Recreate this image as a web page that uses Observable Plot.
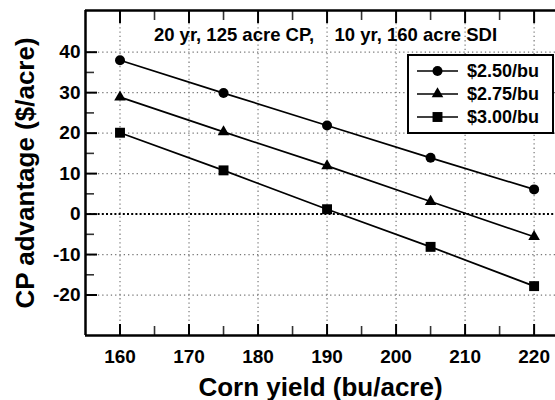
<!DOCTYPE html>
<html>
<head>
<meta charset="utf-8">
<script src="https://cdn.jsdelivr.net/npm/d3@7"></script>
<script src="https://cdn.jsdelivr.net/npm/@observablehq/plot@0.6"></script>
<style>
  html, body { margin: 0; padding: 0; background: #fff; overflow: hidden; }
  #chart { position: relative; width: 555px; height: 400px; }
  svg, svg text { font-family: "Liberation Sans", Arial, Helvetica, sans-serif !important; }
</style>
</head>
<body>
<div id="chart"></div>
<script>
// ---- data ----
const yields = [160, 175, 190, 205, 220];
const prices = ["$2.50/bu", "$2.75/bu", "$3.00/bu"];
const adv250 = [38.0, 29.9, 21.9, 13.9, 6.1];
const adv275 = [28.9, 20.3, 11.9, 3.1, -5.6];
const adv300 = [20.1, 10.8, 1.2, -8.1, -17.8];
const symbols = ["circle", "triangle", "square"];
const xMajorTicks = [160, 170, 180, 190, 200, 210, 220];
const xMinorTicks = [165, 175, 185, 195, 205, 215];
const yMajorTicks = [-20, -10, 0, 10, 20, 30, 40];
const yMinorTicks = [-15, -5, 5, 15, 25, 35];
const xDomain = [155, 223.1];
const yDomain = [-30, 50.3];
const subtitle = "20 yr, 125 acre CP,\u00a0\u00a0\u00a0 10 yr, 160 acre SDI";
const xTitle = "Corn yield (bu/acre)";
const yTitle = "CP advantage ($/acre)";

const series = [adv250, adv275, adv300];
const data = prices.flatMap((p, i) => yields.map((x, j) => ({price: p, yield: x, adv: series[i][j]})));

const W = 555, H = 400;
const mL = 85, mT = 10, mR = 0, mB = 65;
const innerW = W - mL - mR, innerH = H - mT - mB;
const bold = "bold";
const dotR = [5, 4.3, 5.6];

const marks = [
  // grid
  Plot.ruleY(yMajorTicks.filter(d => d !== 0), {y: d => d, stroke: "#777", strokeWidth: 1.2, strokeDasharray: "1.3,3"}),
  Plot.ruleX(xMajorTicks, {x: d => d, stroke: "#777", strokeWidth: 1.2, strokeDasharray: "1.3,3"}),
  Plot.ruleY([0], {y: d => d, stroke: "black", strokeWidth: 2, strokeDasharray: "2,2.2"}),
  // series lines
  Plot.line(data, {x: "yield", y: "adv", z: "price", stroke: "black", strokeWidth: 1.7}),
  ...prices.map((p, i) => Plot.dot(data.filter(d => d.price === p), {x: "yield", y: "adv", symbol: symbols[i], r: dotR[i], fill: "black", stroke: "none"})),
  // inward ticks: bottom
  Plot.ruleX(xMajorTicks, {x: d => d, insetTop: innerH - 11, stroke: "black", strokeWidth: 2}),
  Plot.ruleX(xMinorTicks, {x: d => d, insetTop: innerH - 9, stroke: "#333", strokeWidth: 1.6}),
  // top
  Plot.ruleX(xMajorTicks, {x: d => d, insetBottom: innerH - 13, stroke: "black", strokeWidth: 2}),
  Plot.ruleX(xMinorTicks, {x: d => d, insetBottom: innerH - 10, stroke: "#333", strokeWidth: 1.6}),
  // left
  Plot.ruleY(yMajorTicks, {y: d => d, insetRight: innerW - 12, stroke: "black", strokeWidth: 2}),
  Plot.ruleY(yMinorTicks, {y: d => d, insetRight: innerW - 9, stroke: "#333", strokeWidth: 1.6}),
  // frame (right side is cut off in the reference)
  Plot.ruleY([yDomain[0], yDomain[1]], {y: d => d, stroke: "black", strokeWidth: 2.5}),
  Plot.ruleX([xDomain[0]], {x: d => d, stroke: "black", strokeWidth: 2.5}),
  // tick labels
  Plot.axisX(xMajorTicks, {anchor: "bottom", tickSize: 0, tickPadding: 14, fontSize: 19, fontWeight: bold, label: null, tickFormat: d => String(d)}),
  Plot.axisY(yMajorTicks, {anchor: "left", tickSize: 0, tickPadding: 5, fontSize: 19, fontWeight: bold, label: null, tickFormat: d => String(d)}),
  // titles
  Plot.text([subtitle], {text: d => d, frameAnchor: "top", dx: 5, dy: 30, lineAnchor: "bottom", fontSize: 18.5, fontWeight: bold}),
  Plot.text([xTitle], {text: d => d, frameAnchor: "bottom", dy: 60, lineAnchor: "bottom", fontSize: 26, fontWeight: bold}),
  Plot.text([yTitle], {text: d => d, frameAnchor: "left", dx: -52, rotate: -90, textAnchor: "middle", lineAnchor: "bottom", fontSize: 26, fontWeight: bold})
];

const chart = Plot.plot({
  width: W, height: H,
  marginLeft: mL, marginTop: mT, marginRight: mR, marginBottom: mB,
  style: {background: "white", color: "black", overflow: "visible"},
  x: {domain: xDomain, axis: null},
  y: {domain: yDomain, axis: null},
  marks
});
document.getElementById("chart").appendChild(chart);

// ---- legend, drawn into the same SVG ----
const svg = d3.select(chart);
const lg = svg.append("g").attr("transform", "translate(408,55)");
lg.append("rect").attr("width", 145).attr("height", 78).attr("fill", "white").attr("stroke", "black").attr("stroke-width", 2);
const rowH = 23;
prices.forEach((p, i) => {
  const cy = 16 + i * rowH;
  const row = lg.append("g").attr("transform", `translate(0,${cy})`);
  row.append("line").attr("x1", 9).attr("x2", 50).attr("y1", 0).attr("y2", 0).attr("stroke", "black").attr("stroke-width", 1.7);
  const sym = {circle: d3.symbolCircle, triangle: d3.symbolTriangle, square: d3.symbolSquare}[symbols[i]];
  row.append("path").attr("transform", "translate(29.5,0)").attr("d", d3.symbol(sym, Math.PI * dotR[i] * dotR[i])()).attr("fill", "black");
  row.append("text").attr("x", 59).attr("y", 0).attr("dy", "0.36em").attr("text-anchor", "start").attr("font-size", 18).attr("font-weight", "bold").attr("fill", "black").text(p);
});
</script>
</body>
</html>
